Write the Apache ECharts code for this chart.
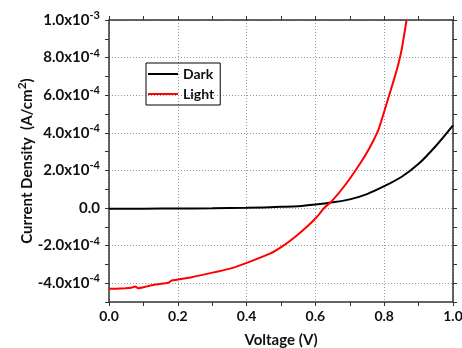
<!DOCTYPE html>
<html>
<head>
<meta charset="utf-8">
<script src="https://cdn.jsdelivr.net/npm/echarts@6/dist/echarts.min.js"></script>
<style>
  html, body { margin: 0; padding: 0; background: #fff; }
  #chart { width: 462px; height: 348px; }
</style>
</head>
<body>
<div id="chart"></div>
<script>
// J-V curves
const darkVoltage = [0, 0.1, 0.2, 0.3, 0.4, 0.5, 0.55, 0.6, 0.65, 0.7, 0.75, 0.8, 0.85, 0.9, 0.95, 1.0];
const darkCurrent = [-4e-6, -3.5e-6, -2.5e-6, -1.5e-6, 1e-6, 6e-6, 9e-6, 1.8e-5, 3.0e-5, 4.6e-5, 7.4e-5, 1.16e-4, 1.65e-4, 2.35e-4, 3.3e-4, 4.4e-4];

const lightVoltage = [0, 0.02, 0.047, 0.065, 0.076, 0.085, 0.11, 0.134, 0.172, 0.182, 0.24, 0.308, 0.357, 0.41, 0.468, 0.507, 0.546, 0.58, 0.604, 0.628, 0.647, 0.686, 0.73, 0.759, 0.783, 0.797, 0.812, 0.827, 0.841, 0.851, 0.865];
const lightCurrent = [-4.30e-4, -4.29e-4, -4.27e-4, -4.24e-4, -4.18e-4, -4.27e-4, -4.17e-4, -4.07e-4, -3.98e-4, -3.86e-4, -3.68e-4, -3.41e-4, -3.20e-4, -2.85e-4, -2.43e-4, -2.0e-4, -1.46e-4, -0.92e-4, -0.48e-4, 0.05e-4, 0.35e-4, 1.21e-4, 2.37e-4, 3.25e-4, 4.15e-4, 4.95e-4, 5.85e-4, 6.75e-4, 7.65e-4, 8.45e-4, 10.0e-4];

const seriesNames = ['Dark', 'Light'];
const seriesColors = ['#000000', '#ff0000'];

const font = 'Lato';
const axisColor = '#333';

const pairs = (xs, ys) => xs.map((x, i) => [x, ys[i]]);

function yLabel(v) {
  const n = Math.round(v / 1e-4);
  if (n % 2 !== 0) return '';
  if (n === 0) return '{b|0.0}';
  if (n === 10) return '{b|1.0x10}{s|-3}';
  return '{b|' + n.toFixed(1) + 'x10}{s|-4}';
}

const richLabel = {
  b: { fontFamily: font, fontWeight: 'bold', fontSize: 15, color: '#111', lineHeight: 20 },
  s: { fontFamily: font, fontWeight: 'bold', fontSize: 11, color: '#111', verticalAlign: 'top', lineHeight: 20 }
};

const chart = echarts.init(document.getElementById('chart'));

chart.setOption({
  animation: false,
  grid: { left: 109, right: 9, top: 20, bottom: 46, outerBoundsMode: 'none' },
  legend: {
    data: seriesNames.map(name => ({ name, icon: 'rect' })),
    orient: 'vertical',
    left: 146,
    top: 63,
    itemWidth: 30,
    itemHeight: 2,
    itemGap: 6,
    padding: [4, 6, 4, 2],
    borderColor: '#000',
    borderWidth: 1,
    textStyle: { fontFamily: font, fontWeight: 'bold', fontSize: 14, lineHeight: 14, color: '#111' }
  },
  xAxis: [
    {
      type: 'value',
      min: 0,
      max: 1,
      interval: 0.2,
      name: 'Voltage (V)',
      nameLocation: 'middle',
      nameGap: 31,
      nameMoveOverlap: false,
      nameTextStyle: { fontFamily: font, fontWeight: 'bold', fontSize: 15, color: '#111' },
      axisLine: { onZero: false, lineStyle: { color: axisColor, width: 1.5 } },
      axisTick: { length: 4, lineStyle: { color: axisColor } },
      minorTick: { show: true, splitNumber: 2, length: 4, lineStyle: { color: axisColor } },
      axisLabel: {
        margin: 7,
        fontFamily: font, fontWeight: 'bold', fontSize: 14, color: '#111',
        formatter: v => v.toFixed(1)
      },
      splitLine: { show: true, lineStyle: { color: '#999', type: [1, 2] } }
    },
    {
      type: 'value',
      position: 'top',
      min: 0,
      max: 1,
      interval: 0.2,
      axisLine: { show: true, onZero: false, lineStyle: { color: axisColor, width: 1.5 } },
      axisTick: { show: true, length: 4, lineStyle: { color: axisColor } },
      minorTick: { show: true, splitNumber: 2, length: 4, lineStyle: { color: axisColor } },
      axisLabel: { show: false },
      splitLine: { show: false }
    }
  ],
  yAxis: [
    {
      type: 'value',
      min: -5e-4,
      max: 1e-3,
      interval: 1e-4,
      name: '{n|Current Density  (A/cm}{s|2}{n|)}',
      nameLocation: 'middle',
      nameGap: 71,
      nameMoveOverlap: false,
      nameTextStyle: {
        rich: {
          n: { fontFamily: font, fontWeight: 'bold', fontSize: 15, color: '#111', lineHeight: 22 },
          s: { fontFamily: font, fontWeight: 'bold', fontSize: 12, color: '#111', verticalAlign: 'top', lineHeight: 22 }
        }
      },
      axisLine: { show: true, onZero: false, lineStyle: { color: axisColor, width: 1.5 } },
      axisTick: { length: 4, lineStyle: { color: axisColor } },
      axisLabel: { margin: 9, formatter: yLabel, rich: richLabel },
      splitLine: { show: true, lineStyle: { color: ['rgba(0,0,0,0)', '#999'], type: [1, 2] } }
    },
    {
      type: 'value',
      position: 'right',
      min: -5e-4,
      max: 1e-3,
      interval: 1e-4,
      axisLine: { show: true, onZero: false, lineStyle: { color: axisColor, width: 1.5 } },
      axisTick: { show: true, length: 4, lineStyle: { color: axisColor } },
      axisLabel: { show: false },
      splitLine: { show: false }
    }
  ],
  series: [
    {
      name: seriesNames[0],
      type: 'line',
      showSymbol: false,
      smooth: 0.3,
      data: pairs(darkVoltage, darkCurrent),
      color: seriesColors[0],
      lineStyle: { width: 2 }
    },
    {
      name: seriesNames[1],
      type: 'line',
      showSymbol: false,
      smooth: 0.15,
      data: pairs(lightVoltage, lightCurrent),
      color: seriesColors[1],
      lineStyle: { width: 2 }
    }
  ]
});
</script>
</body>
</html>
